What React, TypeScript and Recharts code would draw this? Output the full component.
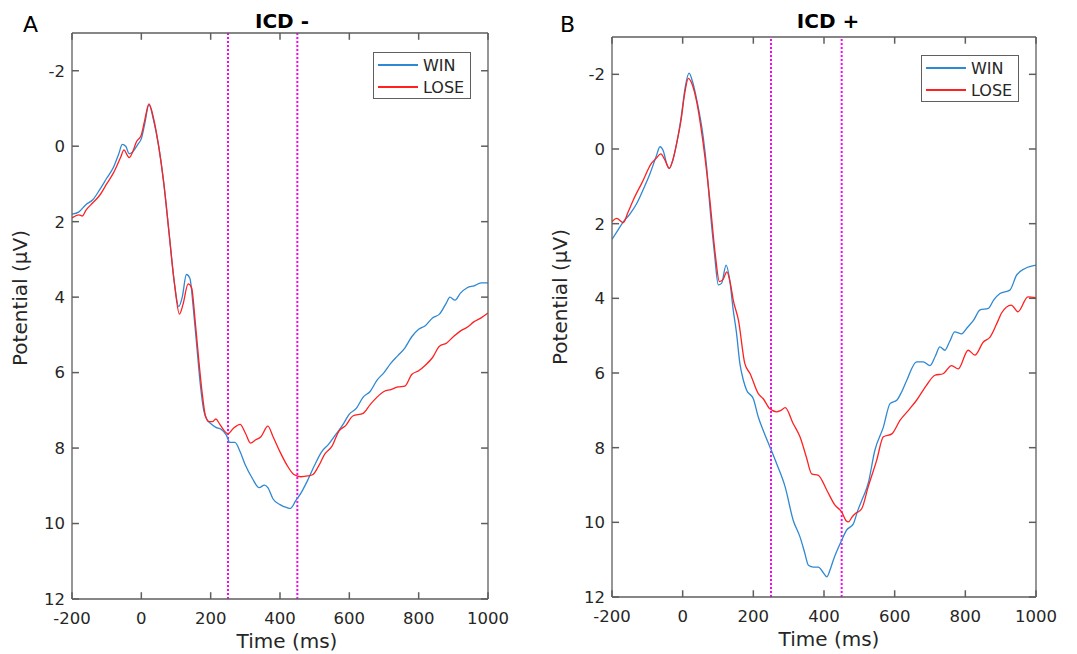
import React from 'react';
import { LineChart, Line, XAxis, YAxis, ReferenceLine } from 'recharts';

// panel A (ICD -)
const winTimesA = [-200, -180, -160, -140, -120, -100, -80, -65, -55, -45, -35, -25, -10, 0, 10, 22, 35, 50, 65, 80, 95, 108, 118, 130, 140, 150, 160, 170, 180, 190, 200, 215, 230, 245, 255, 270, 285, 300, 320, 340, 355, 365, 380, 400, 420, 430, 445, 460, 480, 500, 520, 540, 560, 580, 600, 620, 640, 660, 680, 700, 720, 740, 760, 780, 800, 820, 840, 860, 880, 890, 905, 920, 940, 960, 980, 1000];
const winValuesA = [1.8, 1.74, 1.55, 1.42, 1.15, 0.85, 0.55, 0.2, -0.05, 0.0, 0.2, 0.15, -0.05, -0.2, -0.6, -1.1, -0.7, 0.0, 1.0, 2.3, 3.6, 4.25, 4.0, 3.4, 3.5, 4.3, 5.3, 6.3, 7.0, 7.25, 7.35, 7.45, 7.5, 7.65, 7.85, 7.85, 8.1, 8.45, 8.8, 9.05, 8.98, 9.05, 9.35, 9.5, 9.58, 9.6, 9.4, 9.2, 8.85, 8.45, 8.1, 7.9, 7.65, 7.4, 7.1, 6.95, 6.65, 6.5, 6.2, 6.0, 5.75, 5.55, 5.35, 5.05, 4.85, 4.75, 4.55, 4.45, 4.15, 4.0, 4.08, 3.9, 3.75, 3.7, 3.62, 3.62];
const loseTimesA = [-200, -180, -170, -160, -140, -120, -100, -80, -60, -50, -40, -35, -25, -15, 0, 10, 22, 35, 50, 65, 80, 95, 110, 120, 135, 145, 155, 165, 175, 185, 195, 205, 215, 225, 240, 250, 265, 285, 300, 315, 330, 345, 365, 380, 400, 420, 440, 460, 480, 495, 510, 530, 550, 570, 590, 610, 640, 660, 680, 700, 720, 740, 760, 780, 800, 820, 840, 860, 880, 900, 920, 940, 960, 980, 1000];
const loseValuesA = [1.9, 1.82, 1.85, 1.7, 1.5, 1.3, 1.0, 0.7, 0.3, 0.1, 0.25, 0.3, 0.15, -0.1, -0.3, -0.7, -1.12, -0.75, 0.0, 1.0, 2.3, 3.6, 4.45, 4.2, 3.65, 3.75, 4.6, 5.6, 6.5, 7.15, 7.3, 7.3, 7.23, 7.35, 7.55, 7.62, 7.48, 7.37, 7.6, 7.87, 7.78, 7.7, 7.42, 7.7, 8.1, 8.45, 8.7, 8.76, 8.74, 8.7, 8.5, 8.15, 7.95, 7.55, 7.4, 7.15, 7.08, 6.85, 6.65, 6.5, 6.45, 6.38, 6.36, 6.05, 5.95, 5.8, 5.6, 5.3, 5.22, 5.05, 4.9, 4.8, 4.65, 4.55, 4.42];

// panel B (ICD +)
const winTimesB = [-200, -185, -168, -150, -130, -110, -92, -75, -64, -55, -45, -38, -28, -17, -5, 8, 18, 28, 40, 58, 68, 77, 90, 101, 110, 123, 133, 143, 152, 162, 172, 181, 200, 214, 228, 247, 266, 290, 313, 332, 345, 356, 370, 384, 398, 408, 418, 426, 450, 464, 483, 495, 507, 525, 544, 568, 587, 606, 620, 634, 662, 681, 700, 715, 728, 742, 756, 770, 790, 804, 823, 842, 865, 880, 898, 926, 945, 969, 1000];
const winValuesB = [2.42, 2.2, 1.95, 1.75, 1.46, 1.05, 0.65, 0.2, -0.06, 0.05, 0.4, 0.52, 0.3, -0.15, -0.8, -1.7, -2.03, -1.8, -1.31, -0.33, 0.5, 1.54, 2.8, 3.64, 3.6, 3.11, 3.5, 4.31, 4.9, 5.75, 6.2, 6.46, 6.69, 7.18, 7.54, 7.98, 8.43, 9.05, 9.95, 10.39, 10.8, 11.15, 11.2, 11.2, 11.35, 11.46, 11.25, 11.02, 10.48, 10.21, 10.04, 9.7, 9.41, 8.96, 8.07, 7.45, 6.82, 6.73, 6.5, 6.2, 5.7, 5.7, 5.8, 5.55, 5.3, 5.39, 5.15, 4.9, 4.95, 4.8, 4.59, 4.31, 4.27, 4.05, 3.87, 3.78, 3.38, 3.2, 3.11];
const loseTimesB = [-200, -187, -168, -155, -140, -115, -88, -75, -62, -50, -38, -28, -17, -5, 6, 16, 28, 40, 58, 77, 92, 104, 114, 125, 135, 143, 158, 176, 191, 214, 228, 247, 266, 278, 290, 313, 332, 350, 365, 384, 408, 431, 450, 462, 469, 480, 488, 500, 507, 525, 549, 568, 592, 615, 639, 662, 690, 714, 737, 761, 780, 808, 827, 851, 870, 893, 902, 930, 949, 977, 1000];
const loseValuesB = [1.95, 1.86, 1.97, 1.7, 1.37, 0.9, 0.38, 0.25, 0.13, 0.3, 0.52, 0.3, -0.15, -0.75, -1.5, -1.89, -1.7, -1.25, -0.15, 1.37, 2.8, 3.55, 3.5, 3.29, 3.6, 4.04, 4.59, 5.75, 6.02, 6.55, 6.69, 6.96, 7.04, 7.0, 6.93, 7.36, 7.71, 8.25, 8.7, 8.74, 9.14, 9.54, 9.72, 9.95, 9.99, 9.85, 9.77, 9.7, 9.63, 9.05, 8.34, 7.71, 7.63, 7.27, 7.0, 6.73, 6.33, 6.06, 6.02, 5.8, 5.89, 5.39, 5.52, 5.17, 5.04, 4.59, 4.4, 4.18, 4.36, 3.96, 3.98];

const xTicks = [-200, 0, 200, 400, 600, 800, 1000];
const yTicks = [-2, 0, 2, 4, 6, 8, 10, 12];
const windowEdges = [250, 450];
const seriesNames = ['WIN', 'LOSE'];

const X_DOMAIN: [number, number] = [-200, 1000];
const Y_DOMAIN: [number, number] = [-3, 12];
// inward tick length, in data units (about 7px)
const TICK_DX = 20;
const TICK_DY = 0.18;

const WIN_COLOR = '#2f88d3';
const LOSE_COLOR = '#ff2020';
const AXIS_COLOR = '#5e5e5e';
const TEXT_COLOR = '#262626';
const FONT = '"DejaVu Sans", sans-serif';

const toPoints = (times: number[], values: number[]) =>
    times.map((t, i) => ({ t, v: values[i] }));

const LegendBox = ({ left, top }: { left: number; top: number }) => (
    <div
        style={{
            position: 'absolute',
            left,
            top,
            border: '1.5px solid #606060',
            background: '#fff',
            width: 98,
            height: 47,
            boxSizing: 'border-box',
            fontFamily: FONT,
            fontSize: 16,
            color: TEXT_COLOR,
            padding: '1px 0 0 4px',
        }}
    >
        {seriesNames.map((name, i) => (
            <div key={name} style={{ display: 'flex', alignItems: 'center', height: 22 }}>
                <span style={{ display: 'inline-block', width: 40, height: 1.5, background: i === 0 ? WIN_COLOR : LOSE_COLOR, marginRight: 5 }} />
                {name}
            </div>
        ))}
    </div>
);

type PanelProps = {
    left: number;
    width: number;
    margin: { top: number; right: number; left: number; bottom: number };
    win: { t: number; v: number }[];
    lose: { t: number; v: number }[];
};

const tickStyle = { fill: TEXT_COLOR, fontSize: 16.5, fontFamily: FONT };

const Panel = ({ left, width, margin, win, lose }: PanelProps) => (
    <div style={{ position: 'absolute', left, top: 0 }}>
        <LineChart width={width} height={654} margin={margin}>
            <XAxis
                dataKey="t"
                type="number"
                domain={X_DOMAIN}
                ticks={xTicks}
                allowDataOverflow
                height={30}
                stroke={AXIS_COLOR}
                strokeWidth={1.3}
                tickLine={false}
                tickSize={0}
                tickMargin={13}
                tick={tickStyle}
            />
            <XAxis
                xAxisId="top"
                orientation="top"
                type="number"
                domain={X_DOMAIN}
                height={1}
                stroke={AXIS_COLOR}
                strokeWidth={1.3}
                tickLine={false}
                tick={false}
            />
            <YAxis
                dataKey="v"
                type="number"
                domain={Y_DOMAIN}
                ticks={yTicks}
                reversed
                allowDataOverflow
                width={50}
                stroke={AXIS_COLOR}
                strokeWidth={1.3}
                tickLine={false}
                tickSize={0}
                tickMargin={7}
                tick={tickStyle}
            />
            <YAxis
                yAxisId="right"
                orientation="right"
                type="number"
                domain={Y_DOMAIN}
                reversed
                width={1}
                stroke={AXIS_COLOR}
                strokeWidth={1.3}
                tickLine={false}
                tick={false}
            />
            {/* inward tick marks on all four sides of the box */}
            {xTicks.map((t) => (
                <ReferenceLine key={`xb${t}`} segment={[{ x: t, y: Y_DOMAIN[1] }, { x: t, y: Y_DOMAIN[1] - TICK_DY }]} stroke={AXIS_COLOR} strokeWidth={1.5} ifOverflow="visible" />
            ))}
            {xTicks.map((t) => (
                <ReferenceLine key={`xt${t}`} segment={[{ x: t, y: Y_DOMAIN[0] }, { x: t, y: Y_DOMAIN[0] + TICK_DY }]} stroke={AXIS_COLOR} strokeWidth={1.5} ifOverflow="visible" />
            ))}
            {yTicks.map((v) => (
                <ReferenceLine key={`yl${v}`} segment={[{ x: X_DOMAIN[0], y: v }, { x: X_DOMAIN[0] + TICK_DX, y: v }]} stroke={AXIS_COLOR} strokeWidth={1.5} ifOverflow="visible" />
            ))}
            {yTicks.map((v) => (
                <ReferenceLine key={`yr${v}`} segment={[{ x: X_DOMAIN[1], y: v }, { x: X_DOMAIN[1] - TICK_DX, y: v }]} stroke={AXIS_COLOR} strokeWidth={1.5} ifOverflow="visible" />
            ))}
            {windowEdges.map((x) => (
                <ReferenceLine key={x} x={x} stroke="#ff00ff" strokeWidth={2} strokeDasharray="2 2" />
            ))}
            <Line data={win} dataKey="v" name="WIN" type="monotone" stroke={WIN_COLOR} strokeWidth={1.3} dot={false} isAnimationActive={false} />
            <Line data={lose} dataKey="v" name="LOSE" type="monotone" stroke={LOSE_COLOR} strokeWidth={1.3} dot={false} isAnimationActive={false} />
        </LineChart>
    </div>
);

const textStyle: React.CSSProperties = {
    position: 'absolute',
    fontFamily: FONT,
    color: '#000',
    whiteSpace: 'nowrap',
    lineHeight: 1,
};

const App = () => {
    return (
        <div style={{ position: 'absolute', left: 0, top: 0, width: 1077, height: 654, background: '#fff', overflow: 'hidden' }}>
            <Panel
                left={0}
                width={540}
                margin={{ top: 32, right: 51, left: 22, bottom: 25 }}
                win={toPoints(winTimesA, winValuesA)}
                lose={toPoints(loseTimesA, loseValuesA)}
            />
            <Panel
                left={540}
                width={537}
                margin={{ top: 36, right: 40, left: 22, bottom: 27 }}
                win={toPoints(winTimesB, winValuesB)}
                lose={toPoints(loseTimesB, loseValuesB)}
            />
            <LegendBox left={373} top={52} />
            <LegendBox left={921} top={55} />

            <div style={{ ...textStyle, left: 23, top: 14, fontSize: 22 }}>A</div>
            <div style={{ ...textStyle, left: 560, top: 14, fontSize: 22 }}>B</div>
            <div style={{ ...textStyle, left: 232, width: 100, textAlign: 'center', top: 11, fontSize: 20, fontWeight: 'bold' }}>ICD -</div>
            <div style={{ ...textStyle, left: 778, width: 100, textAlign: 'center', top: 11, fontSize: 20, fontWeight: 'bold' }}>ICD +</div>

            <div style={{ ...textStyle, left: 187, width: 200, textAlign: 'center', top: 631, fontSize: 20, color: TEXT_COLOR }}>Time (ms)</div>
            <div style={{ ...textStyle, left: 729, width: 200, textAlign: 'center', top: 629, fontSize: 20, color: TEXT_COLOR }}>Time (ms)</div>

            <div style={{ ...textStyle, left: 20, top: 298, fontSize: 20, color: TEXT_COLOR, transform: 'translate(-50%, -50%) rotate(-90deg)' }}>Potential (μV)</div>
            <div style={{ ...textStyle, left: 560, top: 297, fontSize: 20, color: TEXT_COLOR, transform: 'translate(-50%, -50%) rotate(-90deg)' }}>Potential (μV)</div>
        </div>
    );
};

export default App;
